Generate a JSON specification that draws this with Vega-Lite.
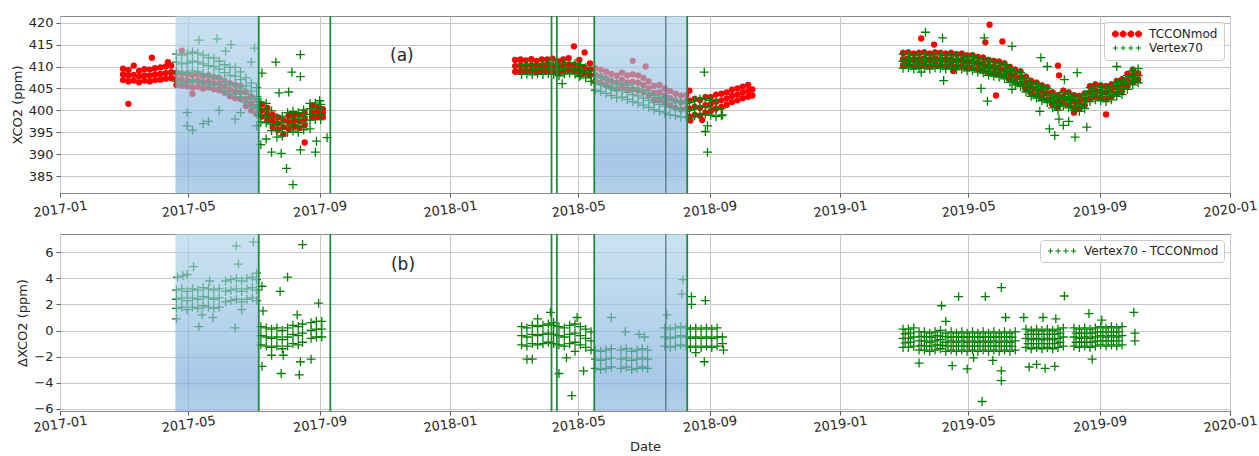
{
  "$schema": "https://vega.github.io/schema/vega-lite/v6.json",
  "background": "white",
  "padding": {"left": 10, "top": 14, "right": 1, "bottom": 2},
  "config": {
    "font": "DejaVu Sans",
    "view": {"stroke": "#8a8a8a", "strokeWidth": 1},
    "axis": {
      "labelFont": "DejaVu Sans", "labelFontSize": 13, "labelColor": "#262626",
      "titleFont": "DejaVu Sans", "titleFontSize": 13, "titleFontWeight": "normal", "titleColor": "#262626",
      "gridColor": "#c8c8c8", "gridWidth": 1, "gridOpacity": 1,
      "domain": false, "tickColor": "#555555", "tickSize": 4
    },
    "legend": {"labelFont": "DejaVu Sans", "labelFontSize": 12, "labelColor": "#262626", "symbolStrokeWidth": 1}
  },
  "datasets": {
    "spans": [{"a": "2017-04-19", "b": "2017-07-06"}, {"a": "2018-05-16", "b": "2018-08-11"}],
    "lines": [{"t": "2017-07-06"}, {"t": "2017-09-11"}, {"t": "2018-04-06"}, {"t": "2018-04-11"}, {"t": "2018-05-16"}, {"t": "2018-08-11"}],
    "edge": [{"t": "2018-07-22"}],
    "series": [{"s": "TCCONmod"}, {"s": "Vertex70"}],
    "tc": [
      {"t":"2017-03-01","y":406.9},{"t":"2017-03-01","y":408.2},{"t":"2017-03-01","y":409.5},
      {"t":"2017-03-06","y":406.6},{"t":"2017-03-06","y":407.9},{"t":"2017-03-06","y":409.2},{"t":"2017-03-06","y":401.5},
      {"t":"2017-03-11","y":406.8},{"t":"2017-03-11","y":408.1},{"t":"2017-03-11","y":410.2},
      {"t":"2017-03-16","y":406.4},{"t":"2017-03-16","y":407.7},{"t":"2017-03-16","y":409.0},
      {"t":"2017-03-21","y":406.8},{"t":"2017-03-21","y":408.0},{"t":"2017-03-21","y":409.4},
      {"t":"2017-03-26","y":406.6},{"t":"2017-03-26","y":407.9},{"t":"2017-03-26","y":409.3},
      {"t":"2017-03-28","y":412.0},
      {"t":"2017-03-31","y":406.9},{"t":"2017-03-31","y":408.2},{"t":"2017-03-31","y":409.6},
      {"t":"2017-04-05","y":407.0},{"t":"2017-04-05","y":408.3},{"t":"2017-04-05","y":409.8},
      {"t":"2017-04-10","y":407.2},{"t":"2017-04-10","y":408.5},{"t":"2017-04-10","y":410.0},
      {"t":"2017-04-12","y":411.0},
      {"t":"2017-04-15","y":407.4},{"t":"2017-04-15","y":408.7},{"t":"2017-04-15","y":410.2},
      {"t":"2017-04-20","y":405.8},{"t":"2017-04-20","y":407.2},{"t":"2017-04-20","y":408.6},
      {"t":"2017-04-25","y":405.6},{"t":"2017-04-25","y":407.0},{"t":"2017-04-25","y":408.4},{"t":"2017-04-25","y":413.6},
      {"t":"2017-04-30","y":405.5},{"t":"2017-04-30","y":406.9},{"t":"2017-04-30","y":408.3},
      {"t":"2017-05-05","y":405.2},{"t":"2017-05-05","y":406.6},{"t":"2017-05-05","y":408.0},{"t":"2017-05-05","y":403.8},
      {"t":"2017-05-10","y":405.4},{"t":"2017-05-10","y":406.8},{"t":"2017-05-10","y":408.2},
      {"t":"2017-05-15","y":405.0},{"t":"2017-05-15","y":406.4},{"t":"2017-05-15","y":407.8},
      {"t":"2017-05-20","y":405.2},{"t":"2017-05-20","y":406.6},{"t":"2017-05-20","y":408.0},
      {"t":"2017-05-25","y":404.8},{"t":"2017-05-25","y":406.2},{"t":"2017-05-25","y":407.6},
      {"t":"2017-05-30","y":404.6},{"t":"2017-05-30","y":406.0},{"t":"2017-05-30","y":407.4},
      {"t":"2017-06-04","y":404.0},{"t":"2017-06-04","y":405.4},{"t":"2017-06-04","y":406.8},
      {"t":"2017-06-09","y":403.2},{"t":"2017-06-09","y":404.7},{"t":"2017-06-09","y":406.2},
      {"t":"2017-06-14","y":402.8},{"t":"2017-06-14","y":404.3},{"t":"2017-06-14","y":405.8},
      {"t":"2017-06-19","y":402.6},{"t":"2017-06-19","y":404.1},{"t":"2017-06-19","y":405.6},
      {"t":"2017-06-24","y":401.0},{"t":"2017-06-24","y":402.6},{"t":"2017-06-24","y":404.2},
      {"t":"2017-06-29","y":400.0},{"t":"2017-06-29","y":401.6},{"t":"2017-06-29","y":403.2},
      {"t":"2017-07-04","y":399.2},{"t":"2017-07-04","y":400.8},{"t":"2017-07-04","y":402.4},
      {"t":"2017-07-09","y":398.6},{"t":"2017-07-09","y":400.0},{"t":"2017-07-09","y":401.4},
      {"t":"2017-07-14","y":397.8},{"t":"2017-07-14","y":399.2},{"t":"2017-07-14","y":400.6},
      {"t":"2017-07-19","y":396.2},{"t":"2017-07-19","y":397.6},{"t":"2017-07-19","y":399.0},
      {"t":"2017-07-24","y":395.6},{"t":"2017-07-24","y":397.0},{"t":"2017-07-24","y":398.4},
      {"t":"2017-07-29","y":394.6},{"t":"2017-07-29","y":396.2},{"t":"2017-07-29","y":397.8},
      {"t":"2017-08-03","y":395.8},{"t":"2017-08-03","y":397.3},{"t":"2017-08-03","y":398.8},
      {"t":"2017-08-08","y":396.2},{"t":"2017-08-08","y":397.6},{"t":"2017-08-08","y":399.0},
      {"t":"2017-08-13","y":396.0},{"t":"2017-08-13","y":397.5},{"t":"2017-08-13","y":399.0},
      {"t":"2017-08-18","y":396.6},{"t":"2017-08-18","y":398.0},{"t":"2017-08-18","y":399.4},{"t":"2017-08-18","y":392.7},
      {"t":"2017-08-25","y":398.4},{"t":"2017-08-25","y":399.6},{"t":"2017-08-25","y":401.1},
      {"t":"2017-08-30","y":398.6},{"t":"2017-08-30","y":399.6},{"t":"2017-08-30","y":400.6},
      {"t":"2017-09-04","y":398.5},{"t":"2017-09-04","y":399.4},{"t":"2017-09-04","y":400.3},
      {"t":"2018-03-03","y":408.8},{"t":"2018-03-03","y":410.1},{"t":"2018-03-03","y":411.5},
      {"t":"2018-03-08","y":409.0},{"t":"2018-03-08","y":410.3},{"t":"2018-03-08","y":411.6},
      {"t":"2018-03-13","y":408.8},{"t":"2018-03-13","y":410.1},{"t":"2018-03-13","y":411.4},
      {"t":"2018-03-18","y":409.0},{"t":"2018-03-18","y":410.3},{"t":"2018-03-18","y":411.7},
      {"t":"2018-03-23","y":408.7},{"t":"2018-03-23","y":410.0},{"t":"2018-03-23","y":411.3},
      {"t":"2018-03-28","y":408.9},{"t":"2018-03-28","y":410.2},{"t":"2018-03-28","y":411.6},
      {"t":"2018-04-02","y":409.0},{"t":"2018-04-02","y":410.3},{"t":"2018-04-02","y":411.6},
      {"t":"2018-04-07","y":408.8},{"t":"2018-04-07","y":410.2},{"t":"2018-04-07","y":411.8},
      {"t":"2018-04-12","y":408.6},{"t":"2018-04-12","y":409.9},{"t":"2018-04-12","y":411.2},
      {"t":"2018-04-17","y":409.0},{"t":"2018-04-17","y":410.3},{"t":"2018-04-17","y":411.6},
      {"t":"2018-04-22","y":409.2},{"t":"2018-04-22","y":410.5},{"t":"2018-04-22","y":411.9},
      {"t":"2018-04-27","y":409.1},{"t":"2018-04-27","y":410.4},{"t":"2018-04-27","y":414.6},
      {"t":"2018-05-02","y":408.8},{"t":"2018-05-02","y":410.1},{"t":"2018-05-02","y":411.5},
      {"t":"2018-05-07","y":408.4},{"t":"2018-05-07","y":409.7},{"t":"2018-05-07","y":413.2},
      {"t":"2018-05-12","y":408.0},{"t":"2018-05-12","y":409.3},{"t":"2018-05-12","y":410.7},
      {"t":"2018-05-17","y":406.6},{"t":"2018-05-17","y":408.1},{"t":"2018-05-17","y":409.6},
      {"t":"2018-05-22","y":406.3},{"t":"2018-05-22","y":407.8},{"t":"2018-05-22","y":409.3},
      {"t":"2018-05-27","y":405.8},{"t":"2018-05-27","y":407.3},{"t":"2018-05-27","y":408.8},
      {"t":"2018-06-01","y":405.2},{"t":"2018-06-01","y":406.7},{"t":"2018-06-01","y":408.3},
      {"t":"2018-06-06","y":404.8},{"t":"2018-06-06","y":406.3},{"t":"2018-06-06","y":407.9},
      {"t":"2018-06-11","y":405.4},{"t":"2018-06-11","y":407.0},{"t":"2018-06-11","y":408.6},
      {"t":"2018-06-16","y":404.8},{"t":"2018-06-16","y":406.4},{"t":"2018-06-16","y":408.0},
      {"t":"2018-06-21","y":404.8},{"t":"2018-06-21","y":406.5},{"t":"2018-06-21","y":408.2},{"t":"2018-06-21","y":411.3},
      {"t":"2018-06-26","y":404.6},{"t":"2018-06-26","y":406.3},{"t":"2018-06-26","y":408.0},
      {"t":"2018-07-01","y":404.2},{"t":"2018-07-01","y":405.8},{"t":"2018-07-01","y":407.4},{"t":"2018-07-03","y":410.0},
      {"t":"2018-07-06","y":403.4},{"t":"2018-07-06","y":405.0},{"t":"2018-07-06","y":406.6},
      {"t":"2018-07-11","y":402.4},{"t":"2018-07-11","y":404.0},{"t":"2018-07-11","y":405.6},
      {"t":"2018-07-16","y":402.4},{"t":"2018-07-16","y":404.1},{"t":"2018-07-16","y":405.8},
      {"t":"2018-07-21","y":401.8},{"t":"2018-07-21","y":403.4},{"t":"2018-07-21","y":405.0},
      {"t":"2018-07-26","y":401.2},{"t":"2018-07-26","y":402.8},{"t":"2018-07-26","y":404.4},
      {"t":"2018-07-31","y":400.6},{"t":"2018-07-31","y":402.2},{"t":"2018-07-31","y":403.8},
      {"t":"2018-08-05","y":400.2},{"t":"2018-08-05","y":401.8},{"t":"2018-08-05","y":403.4},
      {"t":"2018-08-10","y":400.4},{"t":"2018-08-10","y":402.0},{"t":"2018-08-10","y":403.5},
      {"t":"2018-08-13","y":398.6},{"t":"2018-08-13","y":400.4},{"t":"2018-08-13","y":402.2},{"t":"2018-08-13","y":404.5},{"t":"2018-08-14","y":397.7},
      {"t":"2018-08-18","y":399.0},{"t":"2018-08-18","y":400.8},{"t":"2018-08-18","y":402.6},
      {"t":"2018-08-23","y":398.8},{"t":"2018-08-23","y":400.6},{"t":"2018-08-23","y":402.4},{"t":"2018-08-25","y":397.8},
      {"t":"2018-08-28","y":399.5},{"t":"2018-08-28","y":401.2},{"t":"2018-08-28","y":403.0},
      {"t":"2018-09-02","y":399.8},{"t":"2018-09-02","y":401.4},{"t":"2018-09-02","y":403.0},
      {"t":"2018-09-07","y":400.4},{"t":"2018-09-07","y":402.0},{"t":"2018-09-07","y":403.6},
      {"t":"2018-09-12","y":400.8},{"t":"2018-09-12","y":402.3},{"t":"2018-09-12","y":403.8},
      {"t":"2018-09-17","y":401.3},{"t":"2018-09-17","y":402.7},{"t":"2018-09-17","y":404.1},
      {"t":"2018-09-22","y":401.9},{"t":"2018-09-22","y":403.3},{"t":"2018-09-22","y":404.7},
      {"t":"2018-09-27","y":402.3},{"t":"2018-09-27","y":403.6},{"t":"2018-09-27","y":405.0},
      {"t":"2018-10-02","y":402.8},{"t":"2018-10-02","y":404.1},{"t":"2018-10-02","y":405.4},
      {"t":"2018-10-07","y":403.1},{"t":"2018-10-07","y":404.4},{"t":"2018-10-07","y":405.8},
      {"t":"2018-10-11","y":403.4},{"t":"2018-10-11","y":404.8},
      {"t":"2019-03-01","y":410.3},{"t":"2019-03-01","y":411.7},{"t":"2019-03-01","y":413.1},
      {"t":"2019-03-06","y":410.4},{"t":"2019-03-06","y":411.8},{"t":"2019-03-06","y":413.2},
      {"t":"2019-03-11","y":410.1},{"t":"2019-03-11","y":411.5},{"t":"2019-03-11","y":412.9},
      {"t":"2019-03-16","y":410.3},{"t":"2019-03-16","y":411.7},{"t":"2019-03-16","y":413.1},{"t":"2019-03-18","y":416.4},
      {"t":"2019-03-21","y":410.4},{"t":"2019-03-21","y":411.8},{"t":"2019-03-21","y":413.2},
      {"t":"2019-03-26","y":410.1},{"t":"2019-03-26","y":411.5},{"t":"2019-03-26","y":412.9},{"t":"2019-03-30","y":415.0},
      {"t":"2019-03-31","y":410.4},{"t":"2019-03-31","y":411.8},{"t":"2019-03-31","y":413.2},
      {"t":"2019-04-05","y":410.3},{"t":"2019-04-05","y":411.7},{"t":"2019-04-05","y":413.1},
      {"t":"2019-04-10","y":410.1},{"t":"2019-04-10","y":411.5},{"t":"2019-04-10","y":412.9},
      {"t":"2019-04-15","y":410.3},{"t":"2019-04-15","y":411.7},{"t":"2019-04-15","y":413.1},{"t":"2019-04-17","y":409.0},
      {"t":"2019-04-20","y":410.0},{"t":"2019-04-20","y":411.4},{"t":"2019-04-20","y":412.8},
      {"t":"2019-04-25","y":410.1},{"t":"2019-04-25","y":411.5},{"t":"2019-04-25","y":412.9},
      {"t":"2019-04-30","y":409.7},{"t":"2019-04-30","y":411.1},{"t":"2019-04-30","y":412.5},
      {"t":"2019-05-05","y":409.8},{"t":"2019-05-05","y":411.2},{"t":"2019-05-05","y":412.6},
      {"t":"2019-05-10","y":409.4},{"t":"2019-05-10","y":410.8},{"t":"2019-05-10","y":412.2},
      {"t":"2019-05-15","y":409.2},{"t":"2019-05-15","y":410.6},{"t":"2019-05-15","y":412.0},{"t":"2019-05-17","y":415.5},
      {"t":"2019-05-20","y":408.7},{"t":"2019-05-20","y":410.1},{"t":"2019-05-20","y":411.5},{"t":"2019-05-21","y":419.5},
      {"t":"2019-05-25","y":408.5},{"t":"2019-05-25","y":409.9},{"t":"2019-05-25","y":411.3},{"t":"2019-05-27","y":403.4},
      {"t":"2019-05-30","y":408.3},{"t":"2019-05-30","y":409.7},{"t":"2019-05-30","y":411.1},{"t":"2019-06-02","y":415.7},
      {"t":"2019-06-04","y":407.9},{"t":"2019-06-04","y":409.3},{"t":"2019-06-04","y":410.7},
      {"t":"2019-06-09","y":407.1},{"t":"2019-06-09","y":408.5},{"t":"2019-06-09","y":409.9},
      {"t":"2019-06-14","y":406.5},{"t":"2019-06-14","y":407.9},{"t":"2019-06-14","y":409.3},
      {"t":"2019-06-19","y":406.1},{"t":"2019-06-19","y":407.5},{"t":"2019-06-19","y":408.9},
      {"t":"2019-06-24","y":404.9},{"t":"2019-06-24","y":406.3},{"t":"2019-06-24","y":407.7},
      {"t":"2019-06-29","y":403.9},{"t":"2019-06-29","y":405.3},{"t":"2019-06-29","y":406.7},
      {"t":"2019-07-04","y":403.5},{"t":"2019-07-04","y":404.9},{"t":"2019-07-04","y":406.3},
      {"t":"2019-07-09","y":402.9},{"t":"2019-07-09","y":404.3},{"t":"2019-07-09","y":405.7},
      {"t":"2019-07-14","y":402.5},{"t":"2019-07-14","y":403.9},{"t":"2019-07-14","y":405.3},
      {"t":"2019-07-19","y":401.3},{"t":"2019-07-19","y":402.7},{"t":"2019-07-19","y":404.1},
      {"t":"2019-07-24","y":400.7},{"t":"2019-07-24","y":402.1},{"t":"2019-07-24","y":403.5},{"t":"2019-07-24","y":410.2},{"t":"2019-07-25","y":408.0},
      {"t":"2019-07-29","y":401.7},{"t":"2019-07-29","y":403.1},{"t":"2019-07-29","y":404.5},
      {"t":"2019-08-03","y":401.3},{"t":"2019-08-03","y":402.7},{"t":"2019-08-03","y":404.1},
      {"t":"2019-08-08","y":400.7},{"t":"2019-08-08","y":402.1},{"t":"2019-08-08","y":403.5},{"t":"2019-08-08","y":399.5},
      {"t":"2019-08-13","y":400.5},{"t":"2019-08-13","y":401.9},{"t":"2019-08-13","y":403.3},
      {"t":"2019-08-18","y":401.1},{"t":"2019-08-18","y":402.5},{"t":"2019-08-18","y":403.9},
      {"t":"2019-08-23","y":402.7},{"t":"2019-08-23","y":404.1},{"t":"2019-08-23","y":405.5},
      {"t":"2019-08-28","y":403.1},{"t":"2019-08-28","y":404.5},{"t":"2019-08-28","y":405.9},
      {"t":"2019-09-02","y":402.9},{"t":"2019-09-02","y":404.3},{"t":"2019-09-02","y":405.7},
      {"t":"2019-09-07","y":402.7},{"t":"2019-09-07","y":404.1},{"t":"2019-09-07","y":405.5},{"t":"2019-09-07","y":399.1},
      {"t":"2019-09-12","y":403.1},{"t":"2019-09-12","y":404.5},{"t":"2019-09-12","y":405.9},
      {"t":"2019-09-17","y":403.9},{"t":"2019-09-17","y":405.3},{"t":"2019-09-17","y":406.7},
      {"t":"2019-09-22","y":404.3},{"t":"2019-09-22","y":405.7},{"t":"2019-09-22","y":407.1},
      {"t":"2019-09-27","y":405.5},{"t":"2019-09-27","y":406.9},{"t":"2019-09-27","y":408.3},
      {"t":"2019-10-02","y":406.5},{"t":"2019-10-02","y":407.9},{"t":"2019-10-02","y":409.3},
      {"t":"2019-10-07","y":407.0},{"t":"2019-10-07","y":408.4}
    ],
    "vx": [
      {"t":"2017-04-20","y":406.6},{"t":"2017-04-20","y":408.8},{"t":"2017-04-20","y":411.0},{"t":"2017-04-20","y":412.8},
      {"t":"2017-04-25","y":406.2},{"t":"2017-04-25","y":408.4},{"t":"2017-04-25","y":410.6},{"t":"2017-04-25","y":412.6},
      {"t":"2017-04-30","y":406.4},{"t":"2017-04-30","y":408.6},{"t":"2017-04-30","y":410.8},{"t":"2017-04-30","y":412.9},{"t":"2017-04-30","y":396.5},{"t":"2017-04-30","y":399.5},
      {"t":"2017-05-05","y":406.8},{"t":"2017-05-05","y":409.0},{"t":"2017-05-05","y":411.2},{"t":"2017-05-05","y":413.3},{"t":"2017-05-05","y":395.5},
      {"t":"2017-05-10","y":406.6},{"t":"2017-05-10","y":408.8},{"t":"2017-05-10","y":411.0},{"t":"2017-05-10","y":413.0},{"t":"2017-05-11","y":416.0},
      {"t":"2017-05-15","y":406.2},{"t":"2017-05-15","y":408.4},{"t":"2017-05-15","y":410.6},{"t":"2017-05-15","y":412.6},{"t":"2017-05-15","y":397.0},
      {"t":"2017-05-20","y":405.8},{"t":"2017-05-20","y":408.0},{"t":"2017-05-20","y":410.2},{"t":"2017-05-20","y":412.0},{"t":"2017-05-20","y":397.5},
      {"t":"2017-05-25","y":405.8},{"t":"2017-05-25","y":407.9},{"t":"2017-05-25","y":410.0},{"t":"2017-05-25","y":411.9},{"t":"2017-05-28","y":416.3},
      {"t":"2017-05-30","y":405.2},{"t":"2017-05-30","y":407.3},{"t":"2017-05-30","y":409.4},{"t":"2017-05-30","y":411.2},{"t":"2017-05-30","y":400.0},
      {"t":"2017-06-04","y":404.4},{"t":"2017-06-04","y":406.5},{"t":"2017-06-04","y":408.6},{"t":"2017-06-04","y":410.4},{"t":"2017-06-05","y":413.5},
      {"t":"2017-06-09","y":403.8},{"t":"2017-06-09","y":405.9},{"t":"2017-06-09","y":408.0},{"t":"2017-06-09","y":409.8},{"t":"2017-06-10","y":415.0},
      {"t":"2017-06-14","y":403.8},{"t":"2017-06-14","y":405.8},{"t":"2017-06-14","y":407.8},{"t":"2017-06-14","y":409.8},{"t":"2017-06-14","y":398.0},
      {"t":"2017-06-19","y":403.0},{"t":"2017-06-19","y":405.0},{"t":"2017-06-19","y":407.0},{"t":"2017-06-19","y":408.8},{"t":"2017-06-19","y":399.5},
      {"t":"2017-06-24","y":401.8},{"t":"2017-06-24","y":403.7},{"t":"2017-06-24","y":405.6},{"t":"2017-06-24","y":407.4},
      {"t":"2017-06-29","y":400.8},{"t":"2017-06-29","y":402.6},{"t":"2017-06-29","y":404.4},{"t":"2017-06-29","y":406.2},{"t":"2017-06-29","y":411.0},
      {"t":"2017-07-04","y":399.2},{"t":"2017-07-04","y":401.2},{"t":"2017-07-04","y":403.2},{"t":"2017-07-04","y":405.2},{"t":"2017-07-02","y":414.2},{"t":"2017-07-04","y":396.5},
      {"t":"2017-07-08","y":397.4},{"t":"2017-07-08","y":398.9},{"t":"2017-07-08","y":400.4},{"t":"2017-07-08","y":401.9},{"t":"2017-07-08","y":392.2},{"t":"2017-07-09","y":408.5},
      {"t":"2017-07-13","y":397.2},{"t":"2017-07-13","y":398.7},{"t":"2017-07-13","y":400.2},{"t":"2017-07-13","y":401.6},{"t":"2017-07-13","y":393.5},
      {"t":"2017-07-18","y":395.4},{"t":"2017-07-18","y":396.9},{"t":"2017-07-18","y":398.4},{"t":"2017-07-18","y":399.9},{"t":"2017-07-18","y":390.5},
      {"t":"2017-07-23","y":393.9},{"t":"2017-07-23","y":395.4},{"t":"2017-07-23","y":396.9},{"t":"2017-07-23","y":398.4},{"t":"2017-07-22","y":411.0},{"t":"2017-07-25","y":404.0},
      {"t":"2017-07-28","y":394.2},{"t":"2017-07-28","y":395.7},{"t":"2017-07-28","y":397.2},{"t":"2017-07-28","y":398.7},{"t":"2017-07-27","y":390.2},{"t":"2017-08-01","y":386.8},
      {"t":"2017-08-02","y":395.0},{"t":"2017-08-02","y":396.5},{"t":"2017-08-02","y":398.0},{"t":"2017-08-02","y":399.5},{"t":"2017-08-03","y":404.2},
      {"t":"2017-08-07","y":395.3},{"t":"2017-08-07","y":396.8},{"t":"2017-08-07","y":398.3},{"t":"2017-08-07","y":399.8},{"t":"2017-08-07","y":383.1},{"t":"2017-08-06","y":408.7},
      {"t":"2017-08-12","y":395.0},{"t":"2017-08-12","y":396.5},{"t":"2017-08-12","y":398.0},{"t":"2017-08-12","y":399.5},{"t":"2017-08-14","y":391.0},
      {"t":"2017-08-17","y":395.6},{"t":"2017-08-17","y":397.1},{"t":"2017-08-17","y":398.6},{"t":"2017-08-17","y":400.1},{"t":"2017-08-14","y":412.7},{"t":"2017-08-14","y":407.7},
      {"t":"2017-08-23","y":397.8},{"t":"2017-08-23","y":399.1},{"t":"2017-08-23","y":400.4},{"t":"2017-08-23","y":401.6},{"t":"2017-08-23","y":395.8},
      {"t":"2017-08-28","y":397.9},{"t":"2017-08-28","y":399.2},{"t":"2017-08-28","y":400.5},{"t":"2017-08-28","y":401.7},{"t":"2017-08-28","y":390.5},{"t":"2017-08-29","y":393.0},
      {"t":"2017-09-02","y":397.9},{"t":"2017-09-02","y":399.1},{"t":"2017-09-02","y":400.3},{"t":"2017-09-02","y":401.4},{"t":"2017-09-01","y":402.2},
      {"t":"2017-09-08","y":393.8},
      {"t":"2018-03-09","y":408.2},{"t":"2018-03-09","y":409.3},{"t":"2018-03-09","y":410.4},
      {"t":"2018-03-14","y":408.3},{"t":"2018-03-14","y":409.4},{"t":"2018-03-14","y":410.5},
      {"t":"2018-03-19","y":408.1},{"t":"2018-03-19","y":409.2},{"t":"2018-03-19","y":410.3},
      {"t":"2018-03-24","y":408.4},{"t":"2018-03-24","y":409.5},{"t":"2018-03-24","y":410.6},
      {"t":"2018-03-29","y":408.2},{"t":"2018-03-29","y":409.4},{"t":"2018-03-29","y":410.6},
      {"t":"2018-04-03","y":408.4},{"t":"2018-04-03","y":409.6},{"t":"2018-04-03","y":410.8},
      {"t":"2018-04-08","y":408.2},{"t":"2018-04-08","y":409.4},{"t":"2018-04-08","y":410.6},
      {"t":"2018-04-13","y":407.9},{"t":"2018-04-13","y":409.1},{"t":"2018-04-13","y":410.3},{"t":"2018-04-16","y":406.1},
      {"t":"2018-04-18","y":408.3},{"t":"2018-04-18","y":409.5},{"t":"2018-04-18","y":410.7},
      {"t":"2018-04-23","y":408.5},{"t":"2018-04-23","y":409.7},{"t":"2018-04-23","y":410.9},
      {"t":"2018-04-28","y":408.3},{"t":"2018-04-28","y":409.5},{"t":"2018-04-28","y":410.7},{"t":"2018-05-02","y":407.7},
      {"t":"2018-05-03","y":408.0},{"t":"2018-05-03","y":409.2},{"t":"2018-05-03","y":410.4},
      {"t":"2018-05-08","y":407.4},{"t":"2018-05-08","y":408.6},{"t":"2018-05-08","y":409.8},
      {"t":"2018-05-13","y":406.6},{"t":"2018-05-13","y":407.8},{"t":"2018-05-13","y":409.0},
      {"t":"2018-05-17","y":404.6},{"t":"2018-05-17","y":406.2},{"t":"2018-05-17","y":407.8},
      {"t":"2018-05-22","y":404.3},{"t":"2018-05-22","y":405.9},{"t":"2018-05-22","y":407.5},
      {"t":"2018-05-27","y":403.9},{"t":"2018-05-27","y":405.5},{"t":"2018-05-27","y":407.1},
      {"t":"2018-06-01","y":403.4},{"t":"2018-06-01","y":405.0},{"t":"2018-06-01","y":406.6},
      {"t":"2018-06-06","y":402.9},{"t":"2018-06-06","y":404.5},{"t":"2018-06-06","y":406.1},
      {"t":"2018-06-11","y":403.0},{"t":"2018-06-11","y":404.6},{"t":"2018-06-11","y":406.2},
      {"t":"2018-06-16","y":402.5},{"t":"2018-06-16","y":404.1},{"t":"2018-06-16","y":405.7},
      {"t":"2018-06-21","y":402.0},{"t":"2018-06-21","y":403.6},{"t":"2018-06-21","y":405.2},
      {"t":"2018-06-26","y":401.7},{"t":"2018-06-26","y":403.3},{"t":"2018-06-26","y":404.9},
      {"t":"2018-07-01","y":401.2},{"t":"2018-07-01","y":402.8},{"t":"2018-07-01","y":404.4},
      {"t":"2018-07-06","y":400.7},{"t":"2018-07-06","y":402.3},{"t":"2018-07-06","y":403.9},
      {"t":"2018-07-11","y":400.2},{"t":"2018-07-11","y":401.8},{"t":"2018-07-11","y":403.4},
      {"t":"2018-07-16","y":399.8},{"t":"2018-07-16","y":401.4},{"t":"2018-07-16","y":403.0},
      {"t":"2018-07-21","y":399.4},{"t":"2018-07-21","y":401.0},{"t":"2018-07-21","y":402.6},
      {"t":"2018-07-26","y":399.0},{"t":"2018-07-26","y":400.7},{"t":"2018-07-26","y":402.4},
      {"t":"2018-07-31","y":398.8},{"t":"2018-07-31","y":400.5},{"t":"2018-07-31","y":402.2},
      {"t":"2018-08-05","y":398.5},{"t":"2018-08-05","y":400.2},{"t":"2018-08-05","y":401.9},
      {"t":"2018-08-10","y":398.6},{"t":"2018-08-10","y":400.3},{"t":"2018-08-10","y":402.0},
      {"t":"2018-08-13","y":398.3},{"t":"2018-08-13","y":400.0},{"t":"2018-08-13","y":401.8},
      {"t":"2018-08-18","y":398.8},{"t":"2018-08-18","y":400.6},{"t":"2018-08-18","y":402.4},
      {"t":"2018-08-23","y":399.0},{"t":"2018-08-23","y":400.8},{"t":"2018-08-23","y":402.6},
      {"t":"2018-08-28","y":399.2},{"t":"2018-08-28","y":401.0},{"t":"2018-08-28","y":402.8},{"t":"2018-08-27","y":408.7},{"t":"2018-08-28","y":395.2},
      {"t":"2018-08-30","y":390.5},{"t":"2018-08-30","y":396.5},
      {"t":"2018-09-02","y":398.9},{"t":"2018-09-02","y":400.6},{"t":"2018-09-02","y":402.3},
      {"t":"2018-09-07","y":398.6},{"t":"2018-09-07","y":400.4},{"t":"2018-09-07","y":402.1},
      {"t":"2018-09-12","y":398.8},{"t":"2018-09-12","y":400.4},{"t":"2018-09-13","y":399.0},
      {"t":"2019-03-01","y":409.6},{"t":"2019-03-01","y":411.2},{"t":"2019-03-01","y":412.8},
      {"t":"2019-03-06","y":409.7},{"t":"2019-03-06","y":411.3},{"t":"2019-03-06","y":412.9},
      {"t":"2019-03-11","y":409.4},{"t":"2019-03-11","y":411.0},{"t":"2019-03-11","y":412.6},
      {"t":"2019-03-16","y":409.6},{"t":"2019-03-16","y":411.2},{"t":"2019-03-16","y":412.8},{"t":"2019-03-18","y":408.7},
      {"t":"2019-03-21","y":409.7},{"t":"2019-03-21","y":411.3},{"t":"2019-03-21","y":412.9},{"t":"2019-03-22","y":417.8},
      {"t":"2019-03-26","y":409.4},{"t":"2019-03-26","y":411.0},{"t":"2019-03-26","y":412.6},
      {"t":"2019-03-31","y":409.7},{"t":"2019-03-31","y":411.3},{"t":"2019-03-31","y":412.9},
      {"t":"2019-04-05","y":409.6},{"t":"2019-04-05","y":411.2},{"t":"2019-04-05","y":412.8},{"t":"2019-04-07","y":416.5},{"t":"2019-04-08","y":406.8},
      {"t":"2019-04-10","y":409.4},{"t":"2019-04-10","y":411.0},{"t":"2019-04-10","y":412.6},
      {"t":"2019-04-15","y":409.6},{"t":"2019-04-15","y":411.2},{"t":"2019-04-15","y":412.8},
      {"t":"2019-04-20","y":409.3},{"t":"2019-04-20","y":410.9},{"t":"2019-04-20","y":412.5},
      {"t":"2019-04-25","y":409.4},{"t":"2019-04-25","y":411.0},{"t":"2019-04-25","y":412.6},
      {"t":"2019-04-30","y":409.0},{"t":"2019-04-30","y":410.6},{"t":"2019-04-30","y":412.2},
      {"t":"2019-05-05","y":409.1},{"t":"2019-05-05","y":410.7},{"t":"2019-05-05","y":412.3},
      {"t":"2019-05-10","y":408.7},{"t":"2019-05-10","y":410.3},{"t":"2019-05-10","y":411.9},{"t":"2019-05-13","y":405.0},
      {"t":"2019-05-15","y":408.5},{"t":"2019-05-15","y":410.1},{"t":"2019-05-15","y":411.7},{"t":"2019-05-16","y":416.5},
      {"t":"2019-05-20","y":408.0},{"t":"2019-05-20","y":409.6},{"t":"2019-05-20","y":411.2},{"t":"2019-05-19","y":402.1},
      {"t":"2019-05-25","y":407.8},{"t":"2019-05-25","y":409.4},{"t":"2019-05-25","y":411.0},
      {"t":"2019-05-30","y":407.6},{"t":"2019-05-30","y":409.2},{"t":"2019-05-30","y":410.8},
      {"t":"2019-06-04","y":407.2},{"t":"2019-06-04","y":408.8},{"t":"2019-06-04","y":410.4},
      {"t":"2019-06-09","y":406.4},{"t":"2019-06-09","y":408.0},{"t":"2019-06-09","y":409.6},{"t":"2019-06-11","y":404.8},{"t":"2019-06-11","y":414.6},
      {"t":"2019-06-14","y":405.8},{"t":"2019-06-14","y":407.4},{"t":"2019-06-14","y":409.0},
      {"t":"2019-06-19","y":405.4},{"t":"2019-06-19","y":407.0},{"t":"2019-06-19","y":408.6},
      {"t":"2019-06-24","y":404.2},{"t":"2019-06-24","y":405.8},{"t":"2019-06-24","y":407.4},
      {"t":"2019-06-29","y":403.2},{"t":"2019-06-29","y":404.8},{"t":"2019-06-29","y":406.4},
      {"t":"2019-07-04","y":402.8},{"t":"2019-07-04","y":404.4},{"t":"2019-07-04","y":406.0},{"t":"2019-07-07","y":399.8},
      {"t":"2019-07-09","y":402.2},{"t":"2019-07-09","y":403.8},{"t":"2019-07-09","y":405.4},{"t":"2019-07-08","y":412.0},
      {"t":"2019-07-14","y":401.8},{"t":"2019-07-14","y":403.4},{"t":"2019-07-14","y":405.0},{"t":"2019-07-14","y":410.0},{"t":"2019-07-16","y":395.8},
      {"t":"2019-07-19","y":400.6},{"t":"2019-07-19","y":402.2},{"t":"2019-07-19","y":403.8},{"t":"2019-07-21","y":394.3},
      {"t":"2019-07-24","y":400.0},{"t":"2019-07-24","y":401.6},{"t":"2019-07-24","y":403.2},{"t":"2019-07-25","y":398.0},
      {"t":"2019-07-29","y":401.0},{"t":"2019-07-29","y":402.6},{"t":"2019-07-29","y":404.2},{"t":"2019-07-29","y":396.6},{"t":"2019-07-30","y":407.0},
      {"t":"2019-08-03","y":400.6},{"t":"2019-08-03","y":402.2},{"t":"2019-08-03","y":403.8},{"t":"2019-08-03","y":397.5},
      {"t":"2019-08-08","y":400.0},{"t":"2019-08-08","y":401.6},{"t":"2019-08-08","y":403.2},{"t":"2019-08-09","y":393.9},{"t":"2019-08-11","y":408.6},
      {"t":"2019-08-13","y":399.8},{"t":"2019-08-13","y":401.4},{"t":"2019-08-13","y":403.0},
      {"t":"2019-08-18","y":400.4},{"t":"2019-08-18","y":402.0},{"t":"2019-08-18","y":403.6},{"t":"2019-08-20","y":396.2},
      {"t":"2019-08-23","y":402.0},{"t":"2019-08-23","y":403.6},{"t":"2019-08-23","y":405.2},
      {"t":"2019-08-28","y":402.4},{"t":"2019-08-28","y":404.0},{"t":"2019-08-28","y":405.6},
      {"t":"2019-09-02","y":402.2},{"t":"2019-09-02","y":403.8},{"t":"2019-09-02","y":405.4},
      {"t":"2019-09-07","y":402.0},{"t":"2019-09-07","y":403.6},{"t":"2019-09-07","y":405.2},
      {"t":"2019-09-12","y":402.4},{"t":"2019-09-12","y":404.0},{"t":"2019-09-12","y":405.6},
      {"t":"2019-09-17","y":403.2},{"t":"2019-09-17","y":404.8},{"t":"2019-09-17","y":406.4},{"t":"2019-09-17","y":410.0},
      {"t":"2019-09-22","y":403.6},{"t":"2019-09-22","y":405.2},{"t":"2019-09-22","y":406.8},
      {"t":"2019-09-27","y":404.8},{"t":"2019-09-27","y":406.4},{"t":"2019-09-27","y":408.0},
      {"t":"2019-10-02","y":405.8},{"t":"2019-10-02","y":407.4},{"t":"2019-10-02","y":409.0},
      {"t":"2019-10-07","y":406.3},{"t":"2019-10-07","y":407.9},{"t":"2019-10-07","y":409.5},
      {"t":"2019-03-03","y":410.5},{"t":"2019-03-03","y":412.0},{"t":"2019-03-08","y":410.3},{"t":"2019-03-08","y":411.9},
      {"t":"2019-03-13","y":410.3},{"t":"2019-03-13","y":411.9},{"t":"2019-03-18","y":410.4},{"t":"2019-03-18","y":412.0},
      {"t":"2019-03-23","y":410.3},{"t":"2019-03-23","y":411.9},{"t":"2019-03-28","y":410.4},{"t":"2019-03-28","y":412.0},
      {"t":"2019-04-02","y":410.4},{"t":"2019-04-02","y":412.0},{"t":"2019-04-07","y":410.3},{"t":"2019-04-07","y":411.9},
      {"t":"2019-04-12","y":410.3},{"t":"2019-04-12","y":411.9},{"t":"2019-04-17","y":410.2},{"t":"2019-04-17","y":411.8},
      {"t":"2019-04-22","y":410.1},{"t":"2019-04-22","y":411.7},{"t":"2019-04-27","y":410.0},{"t":"2019-04-27","y":411.6},
      {"t":"2019-05-02","y":409.8},{"t":"2019-05-02","y":411.4},{"t":"2019-05-07","y":409.7},{"t":"2019-05-07","y":411.3},
      {"t":"2019-05-12","y":409.4},{"t":"2019-05-12","y":411.0},{"t":"2019-05-17","y":409.0},{"t":"2019-05-17","y":410.6},
      {"t":"2019-05-22","y":408.7},{"t":"2019-05-22","y":410.3},{"t":"2019-05-27","y":408.5},{"t":"2019-05-27","y":410.1},
      {"t":"2019-06-01","y":408.2},{"t":"2019-06-01","y":409.8},{"t":"2019-06-06","y":407.6},{"t":"2019-06-06","y":409.2},
      {"t":"2019-06-11","y":406.9},{"t":"2019-06-11","y":408.5},{"t":"2019-06-16","y":406.4},{"t":"2019-06-16","y":408.0},
      {"t":"2019-06-21","y":405.6},{"t":"2019-06-21","y":407.2},{"t":"2019-06-26","y":404.5},{"t":"2019-06-26","y":406.1},
      {"t":"2019-07-01","y":403.8},{"t":"2019-07-01","y":405.4},{"t":"2019-07-06","y":403.3},{"t":"2019-07-06","y":404.9},
      {"t":"2019-07-11","y":402.8},{"t":"2019-07-11","y":404.4},{"t":"2019-07-16","y":402.0},{"t":"2019-07-16","y":403.6},
      {"t":"2019-07-21","y":401.1},{"t":"2019-07-21","y":402.7},{"t":"2019-07-26","y":401.3},{"t":"2019-07-26","y":402.9},
      {"t":"2019-07-31","y":401.6},{"t":"2019-07-31","y":403.2},{"t":"2019-08-05","y":401.1},{"t":"2019-08-05","y":402.7},
      {"t":"2019-08-10","y":400.7},{"t":"2019-08-10","y":402.3},{"t":"2019-08-15","y":400.9},{"t":"2019-08-15","y":402.5},
      {"t":"2019-08-20","y":402.0},{"t":"2019-08-20","y":403.6},{"t":"2019-08-25","y":403.0},{"t":"2019-08-25","y":404.6},
      {"t":"2019-08-30","y":403.1},{"t":"2019-08-30","y":404.7},{"t":"2019-09-04","y":402.9},{"t":"2019-09-04","y":404.5},
      {"t":"2019-09-09","y":403.0},{"t":"2019-09-09","y":404.6},{"t":"2019-09-14","y":403.6},{"t":"2019-09-14","y":405.2},
      {"t":"2019-09-19","y":404.2},{"t":"2019-09-19","y":405.8},{"t":"2019-09-24","y":405.0},{"t":"2019-09-24","y":406.6},
      {"t":"2019-09-29","y":406.1},{"t":"2019-09-29","y":407.7},{"t":"2019-10-04","y":406.8},{"t":"2019-10-04","y":408.5}
    ],
    "dv": [
      {"t":"2017-04-20","y":1.7},{"t":"2017-04-20","y":2.4},{"t":"2017-04-20","y":3.1},{"t":"2017-04-20","y":0.9},{"t":"2017-04-21","y":4.1},
      {"t":"2017-04-25","y":1.8},{"t":"2017-04-25","y":2.5},{"t":"2017-04-25","y":3.2},{"t":"2017-04-26","y":4.2},
      {"t":"2017-04-30","y":1.6},{"t":"2017-04-30","y":2.3},{"t":"2017-04-30","y":3.0},{"t":"2017-04-30","y":4.3},
      {"t":"2017-05-05","y":1.8},{"t":"2017-05-05","y":2.5},{"t":"2017-05-05","y":3.2},{"t":"2017-05-06","y":4.9},
      {"t":"2017-05-10","y":1.7},{"t":"2017-05-10","y":2.4},{"t":"2017-05-10","y":3.1},{"t":"2017-05-11","y":0.3},
      {"t":"2017-05-15","y":1.9},{"t":"2017-05-15","y":2.6},{"t":"2017-05-15","y":3.3},{"t":"2017-05-14","y":1.2},
      {"t":"2017-05-20","y":1.8},{"t":"2017-05-20","y":2.5},{"t":"2017-05-20","y":3.2},{"t":"2017-05-21","y":3.8},
      {"t":"2017-05-25","y":1.7},{"t":"2017-05-25","y":2.4},{"t":"2017-05-25","y":3.1},{"t":"2017-05-24","y":1.0},
      {"t":"2017-05-30","y":1.8},{"t":"2017-05-30","y":2.5},{"t":"2017-05-30","y":3.2},
      {"t":"2017-06-05","y":2.2},{"t":"2017-06-05","y":3.0},{"t":"2017-06-05","y":3.8},
      {"t":"2017-06-10","y":2.3},{"t":"2017-06-10","y":3.1},{"t":"2017-06-10","y":3.9},{"t":"2017-06-14","y":0.2},
      {"t":"2017-06-15","y":2.4},{"t":"2017-06-15","y":3.2},{"t":"2017-06-15","y":4.0},{"t":"2017-06-15","y":6.5},{"t":"2017-06-17","y":5.1},
      {"t":"2017-06-20","y":2.2},{"t":"2017-06-20","y":3.0},{"t":"2017-06-20","y":3.8},{"t":"2017-06-20","y":1.6},
      {"t":"2017-06-25","y":2.4},{"t":"2017-06-25","y":3.2},{"t":"2017-06-25","y":4.0},
      {"t":"2017-06-30","y":2.5},{"t":"2017-06-30","y":3.3},{"t":"2017-06-30","y":4.1},{"t":"2017-07-01","y":6.8},
      {"t":"2017-07-04","y":2.3},{"t":"2017-07-04","y":3.1},{"t":"2017-07-04","y":3.9},{"t":"2017-07-04","y":4.4},
      {"t":"2017-07-08","y":-1.1},{"t":"2017-07-08","y":-0.4},{"t":"2017-07-08","y":0.3},{"t":"2017-07-09","y":3.4},{"t":"2017-07-09","y":-2.75},{"t":"2017-07-10","y":1.5},
      {"t":"2017-07-13","y":-1.2},{"t":"2017-07-13","y":-0.5},{"t":"2017-07-13","y":0.2},
      {"t":"2017-07-18","y":-1.3},{"t":"2017-07-18","y":-0.6},{"t":"2017-07-18","y":0.1},{"t":"2017-07-18","y":-1.9},
      {"t":"2017-07-23","y":-1.2},{"t":"2017-07-23","y":-0.5},{"t":"2017-07-23","y":0.2},{"t":"2017-07-26","y":3.0},
      {"t":"2017-07-28","y":-1.4},{"t":"2017-07-28","y":-0.7},{"t":"2017-07-28","y":0.0},{"t":"2017-07-27","y":-3.3},{"t":"2017-07-29","y":-1.9},
      {"t":"2017-08-02","y":-1.2},{"t":"2017-08-02","y":-0.5},{"t":"2017-08-02","y":0.2},{"t":"2017-08-02","y":4.1},
      {"t":"2017-08-07","y":-1.0},{"t":"2017-08-07","y":-0.3},{"t":"2017-08-07","y":0.4},
      {"t":"2017-08-12","y":-1.1},{"t":"2017-08-12","y":-0.4},{"t":"2017-08-12","y":0.3},{"t":"2017-08-13","y":-3.4},{"t":"2017-08-11","y":1.2},
      {"t":"2017-08-16","y":-0.9},{"t":"2017-08-16","y":-0.2},{"t":"2017-08-16","y":0.5},{"t":"2017-08-16","y":6.6},{"t":"2017-08-14","y":-2.4},
      {"t":"2017-08-24","y":-0.6},{"t":"2017-08-24","y":0.0},{"t":"2017-08-24","y":0.6},{"t":"2017-08-24","y":-2.2},
      {"t":"2017-08-29","y":-0.5},{"t":"2017-08-29","y":0.1},{"t":"2017-08-29","y":0.7},{"t":"2017-08-31","y":2.1},
      {"t":"2017-09-03","y":-0.5},{"t":"2017-09-03","y":0.1},{"t":"2017-09-03","y":0.7},
      {"t":"2018-03-09","y":-1.1},{"t":"2018-03-09","y":-0.4},{"t":"2018-03-09","y":0.3},
      {"t":"2018-03-14","y":-1.2},{"t":"2018-03-14","y":-0.5},{"t":"2018-03-14","y":0.2},{"t":"2018-03-14","y":-2.2},
      {"t":"2018-03-19","y":-1.0},{"t":"2018-03-19","y":-0.3},{"t":"2018-03-19","y":0.4},{"t":"2018-03-19","y":-2.2},
      {"t":"2018-03-24","y":-1.1},{"t":"2018-03-24","y":-0.4},{"t":"2018-03-24","y":0.3},{"t":"2018-03-24","y":0.9},
      {"t":"2018-03-29","y":-1.0},{"t":"2018-03-29","y":-0.3},{"t":"2018-03-29","y":0.4},
      {"t":"2018-04-03","y":-0.9},{"t":"2018-04-03","y":-0.2},{"t":"2018-04-03","y":0.5},{"t":"2018-04-05","y":1.4},
      {"t":"2018-04-08","y":-1.0},{"t":"2018-04-08","y":-0.3},{"t":"2018-04-08","y":0.4},{"t":"2018-04-08","y":0.6},
      {"t":"2018-04-13","y":-1.1},{"t":"2018-04-13","y":-0.4},{"t":"2018-04-13","y":0.3},{"t":"2018-04-13","y":-3.3},
      {"t":"2018-04-18","y":-1.2},{"t":"2018-04-18","y":-0.5},{"t":"2018-04-18","y":0.2},{"t":"2018-04-20","y":-2.1},
      {"t":"2018-04-23","y":-1.0},{"t":"2018-04-23","y":-0.3},{"t":"2018-04-23","y":0.4},{"t":"2018-04-25","y":-5.0},
      {"t":"2018-04-28","y":-0.9},{"t":"2018-04-28","y":-0.2},{"t":"2018-04-28","y":0.5},{"t":"2018-04-30","y":1.0},{"t":"2018-04-28","y":-1.6},
      {"t":"2018-05-03","y":-1.1},{"t":"2018-05-03","y":-0.4},{"t":"2018-05-03","y":0.3},
      {"t":"2018-05-08","y":-1.3},{"t":"2018-05-08","y":-0.6},{"t":"2018-05-08","y":0.1},{"t":"2018-05-06","y":-3.1},
      {"t":"2018-05-13","y":-1.5},{"t":"2018-05-13","y":-0.8},{"t":"2018-05-13","y":-0.1},
      {"t":"2018-05-17","y":-2.9},{"t":"2018-05-17","y":-2.2},{"t":"2018-05-17","y":-1.5},
      {"t":"2018-05-22","y":-3.0},{"t":"2018-05-22","y":-2.3},{"t":"2018-05-22","y":-1.6},
      {"t":"2018-05-27","y":-2.9},{"t":"2018-05-27","y":-2.2},{"t":"2018-05-27","y":-1.5},
      {"t":"2018-06-01","y":-2.8},{"t":"2018-06-01","y":-2.1},{"t":"2018-06-01","y":-1.4},{"t":"2018-06-01","y":1.0},
      {"t":"2018-06-10","y":-2.9},{"t":"2018-06-10","y":-2.2},{"t":"2018-06-10","y":-1.5},
      {"t":"2018-06-15","y":-2.8},{"t":"2018-06-15","y":-2.1},{"t":"2018-06-15","y":-1.4},{"t":"2018-06-14","y":-0.1},
      {"t":"2018-06-20","y":-3.0},{"t":"2018-06-20","y":-2.3},{"t":"2018-06-20","y":-1.6},
      {"t":"2018-06-25","y":-2.9},{"t":"2018-06-25","y":-2.2},{"t":"2018-06-25","y":-1.5},{"t":"2018-06-27","y":-0.3},
      {"t":"2018-06-30","y":-2.8},{"t":"2018-06-30","y":-2.1},{"t":"2018-06-30","y":-1.4},{"t":"2018-07-02","y":-0.5},
      {"t":"2018-07-05","y":-2.9},{"t":"2018-07-05","y":-2.2},{"t":"2018-07-05","y":-1.5},
      {"t":"2018-07-21","y":-1.2},{"t":"2018-07-21","y":-0.5},{"t":"2018-07-21","y":0.2},{"t":"2018-07-23","y":1.2},
      {"t":"2018-07-26","y":-1.3},{"t":"2018-07-26","y":-0.6},{"t":"2018-07-26","y":0.1},
      {"t":"2018-07-31","y":-1.2},{"t":"2018-07-31","y":-0.5},{"t":"2018-07-31","y":0.2},
      {"t":"2018-08-05","y":-1.1},{"t":"2018-08-05","y":-0.4},{"t":"2018-08-05","y":0.3},{"t":"2018-08-06","y":2.8},{"t":"2018-08-07","y":3.9},
      {"t":"2018-08-10","y":-1.2},{"t":"2018-08-10","y":-0.5},{"t":"2018-08-10","y":0.2},
      {"t":"2018-08-14","y":-1.3},{"t":"2018-08-14","y":-0.6},{"t":"2018-08-14","y":0.1},{"t":"2018-08-15","y":2.6},{"t":"2018-08-15","y":2.0},
      {"t":"2018-08-19","y":-1.2},{"t":"2018-08-19","y":-0.5},{"t":"2018-08-19","y":0.2},{"t":"2018-08-19","y":-1.7},
      {"t":"2018-08-24","y":-1.3},{"t":"2018-08-24","y":-0.6},{"t":"2018-08-24","y":0.1},
      {"t":"2018-08-29","y":-1.2},{"t":"2018-08-29","y":-0.5},{"t":"2018-08-29","y":0.2},{"t":"2018-08-28","y":2.3},{"t":"2018-08-27","y":-2.4},
      {"t":"2018-09-03","y":-1.3},{"t":"2018-09-03","y":-0.6},{"t":"2018-09-03","y":0.1},
      {"t":"2018-09-08","y":-1.2},{"t":"2018-09-08","y":-0.5},{"t":"2018-09-08","y":0.2},
      {"t":"2018-09-13","y":-1.0},{"t":"2018-09-13","y":-0.5},{"t":"2018-09-14","y":-1.5},
      {"t":"2019-03-01","y":-1.3},{"t":"2019-03-01","y":-0.6},{"t":"2019-03-01","y":0.1},
      {"t":"2019-03-06","y":-1.3},{"t":"2019-03-06","y":-0.6},{"t":"2019-03-06","y":0.1},
      {"t":"2019-03-11","y":-1.2},{"t":"2019-03-11","y":-0.5},{"t":"2019-03-11","y":0.2},
      {"t":"2019-03-16","y":-1.5},{"t":"2019-03-16","y":-0.8},{"t":"2019-03-16","y":-0.1},{"t":"2019-03-16","y":-2.5},
      {"t":"2019-03-21","y":-1.5},{"t":"2019-03-21","y":-0.8},{"t":"2019-03-21","y":-0.1},
      {"t":"2019-03-26","y":-1.6},{"t":"2019-03-26","y":-0.9},{"t":"2019-03-26","y":-0.2},
      {"t":"2019-03-31","y":-1.5},{"t":"2019-03-31","y":-0.8},{"t":"2019-03-31","y":-0.1},
      {"t":"2019-04-05","y":-1.4},{"t":"2019-04-05","y":-0.7},{"t":"2019-04-05","y":0.0},{"t":"2019-04-06","y":1.9},
      {"t":"2019-04-10","y":-1.6},{"t":"2019-04-10","y":-0.9},{"t":"2019-04-10","y":-0.2},{"t":"2019-04-10","y":0.7},
      {"t":"2019-04-15","y":-1.5},{"t":"2019-04-15","y":-0.8},{"t":"2019-04-15","y":-0.1},{"t":"2019-04-16","y":-2.7},
      {"t":"2019-04-20","y":-1.6},{"t":"2019-04-20","y":-0.9},{"t":"2019-04-20","y":-0.2},{"t":"2019-04-22","y":2.6},
      {"t":"2019-04-25","y":-1.5},{"t":"2019-04-25","y":-0.8},{"t":"2019-04-25","y":-0.1},
      {"t":"2019-04-30","y":-1.6},{"t":"2019-04-30","y":-0.9},{"t":"2019-04-30","y":-0.2},{"t":"2019-04-30","y":-2.95},
      {"t":"2019-05-05","y":-1.5},{"t":"2019-05-05","y":-0.8},{"t":"2019-05-05","y":-0.1},{"t":"2019-05-06","y":-2.1},
      {"t":"2019-05-10","y":-1.6},{"t":"2019-05-10","y":-0.9},{"t":"2019-05-10","y":-0.2},
      {"t":"2019-05-15","y":-1.5},{"t":"2019-05-15","y":-0.8},{"t":"2019-05-15","y":-0.1},{"t":"2019-05-14","y":-5.45},{"t":"2019-05-17","y":2.6},
      {"t":"2019-05-20","y":-1.6},{"t":"2019-05-20","y":-0.9},{"t":"2019-05-20","y":-0.2},
      {"t":"2019-05-25","y":-1.5},{"t":"2019-05-25","y":-0.8},{"t":"2019-05-25","y":-0.1},{"t":"2019-05-24","y":-2.3},
      {"t":"2019-05-30","y":-1.6},{"t":"2019-05-30","y":-0.9},{"t":"2019-05-30","y":-0.2},
      {"t":"2019-06-04","y":-1.5},{"t":"2019-06-04","y":-0.8},{"t":"2019-06-04","y":-0.1},{"t":"2019-06-01","y":3.3},{"t":"2019-06-01","y":-3.1},{"t":"2019-06-01","y":-3.85},{"t":"2019-06-05","y":1.0},
      {"t":"2019-06-09","y":-1.6},{"t":"2019-06-09","y":-0.9},{"t":"2019-06-09","y":-0.2},
      {"t":"2019-06-14","y":-1.5},{"t":"2019-06-14","y":-0.8},{"t":"2019-06-14","y":-0.1},
      {"t":"2019-06-24","y":-1.3},{"t":"2019-06-24","y":-0.6},{"t":"2019-06-24","y":0.1},{"t":"2019-06-22","y":1.0},
      {"t":"2019-06-29","y":-1.4},{"t":"2019-06-29","y":-0.7},{"t":"2019-06-29","y":0.0},{"t":"2019-06-27","y":-2.8},
      {"t":"2019-07-04","y":-1.3},{"t":"2019-07-04","y":-0.6},{"t":"2019-07-04","y":0.1},{"t":"2019-07-04","y":-2.6},
      {"t":"2019-07-09","y":-1.4},{"t":"2019-07-09","y":-0.7},{"t":"2019-07-09","y":0.0},{"t":"2019-07-10","y":1.0},
      {"t":"2019-07-14","y":-1.3},{"t":"2019-07-14","y":-0.6},{"t":"2019-07-14","y":0.1},{"t":"2019-07-12","y":-2.9},
      {"t":"2019-07-19","y":-1.4},{"t":"2019-07-19","y":-0.7},{"t":"2019-07-19","y":0.0},
      {"t":"2019-07-24","y":-1.3},{"t":"2019-07-24","y":-0.6},{"t":"2019-07-24","y":0.1},{"t":"2019-07-21","y":-2.75},{"t":"2019-07-22","y":0.9},
      {"t":"2019-07-29","y":-1.2},{"t":"2019-07-29","y":-0.5},{"t":"2019-07-29","y":0.2},{"t":"2019-07-30","y":2.65},
      {"t":"2019-08-08","y":-1.2},{"t":"2019-08-08","y":-0.5},{"t":"2019-08-08","y":0.2},
      {"t":"2019-08-13","y":-1.3},{"t":"2019-08-13","y":-0.6},{"t":"2019-08-13","y":0.1},
      {"t":"2019-08-18","y":-1.2},{"t":"2019-08-18","y":-0.5},{"t":"2019-08-18","y":0.2},
      {"t":"2019-08-23","y":-1.3},{"t":"2019-08-23","y":-0.6},{"t":"2019-08-23","y":0.1},{"t":"2019-08-22","y":1.3},{"t":"2019-08-25","y":-2.2},
      {"t":"2019-08-28","y":-1.2},{"t":"2019-08-28","y":-0.5},{"t":"2019-08-28","y":0.2},
      {"t":"2019-09-02","y":-1.1},{"t":"2019-09-02","y":-0.4},{"t":"2019-09-02","y":0.3},{"t":"2019-09-03","y":0.8},
      {"t":"2019-09-07","y":-1.2},{"t":"2019-09-07","y":-0.5},{"t":"2019-09-07","y":0.2},
      {"t":"2019-09-12","y":-1.1},{"t":"2019-09-12","y":-0.4},{"t":"2019-09-12","y":0.3},
      {"t":"2019-09-17","y":-1.2},{"t":"2019-09-17","y":-0.5},{"t":"2019-09-17","y":0.2},
      {"t":"2019-09-22","y":-1.1},{"t":"2019-09-22","y":-0.4},{"t":"2019-09-22","y":0.3},
      {"t":"2019-10-04","y":-0.8},{"t":"2019-10-04","y":-0.2},{"t":"2019-10-03","y":1.4},
      {"t":"2019-03-03","y":-0.95},{"t":"2019-03-03","y":-0.25},{"t":"2019-03-08","y":-0.9},{"t":"2019-03-08","y":-0.2},
      {"t":"2019-03-18","y":-1.15},{"t":"2019-03-18","y":-0.45},{"t":"2019-03-23","y":-1.2},{"t":"2019-03-23","y":-0.5},
      {"t":"2019-03-28","y":-1.2},{"t":"2019-03-28","y":-0.5},{"t":"2019-04-02","y":-1.1},{"t":"2019-04-02","y":-0.4},
      {"t":"2019-04-07","y":-1.15},{"t":"2019-04-07","y":-0.45},{"t":"2019-04-12","y":-1.2},{"t":"2019-04-12","y":-0.5},
      {"t":"2019-04-17","y":-1.2},{"t":"2019-04-17","y":-0.5},{"t":"2019-04-22","y":-1.2},{"t":"2019-04-22","y":-0.5},
      {"t":"2019-04-27","y":-1.2},{"t":"2019-04-27","y":-0.5},{"t":"2019-05-02","y":-1.2},{"t":"2019-05-02","y":-0.5},
      {"t":"2019-05-07","y":-1.2},{"t":"2019-05-07","y":-0.5},{"t":"2019-05-12","y":-1.2},{"t":"2019-05-12","y":-0.5},
      {"t":"2019-05-17","y":-1.2},{"t":"2019-05-17","y":-0.5},{"t":"2019-05-22","y":-1.2},{"t":"2019-05-22","y":-0.5},
      {"t":"2019-05-27","y":-1.2},{"t":"2019-05-27","y":-0.5},{"t":"2019-06-01","y":-1.2},{"t":"2019-06-01","y":-0.5},
      {"t":"2019-06-06","y":-1.2},{"t":"2019-06-06","y":-0.5},{"t":"2019-06-11","y":-1.2},{"t":"2019-06-11","y":-0.5},
      {"t":"2019-06-26","y":-1.0},{"t":"2019-06-26","y":-0.3},{"t":"2019-07-01","y":-1.0},{"t":"2019-07-01","y":-0.3},
      {"t":"2019-07-06","y":-1.0},{"t":"2019-07-06","y":-0.3},{"t":"2019-07-11","y":-1.0},{"t":"2019-07-11","y":-0.3},
      {"t":"2019-07-16","y":-1.0},{"t":"2019-07-16","y":-0.3},{"t":"2019-07-21","y":-1.0},{"t":"2019-07-21","y":-0.3},
      {"t":"2019-07-26","y":-0.9},{"t":"2019-07-26","y":-0.2},{"t":"2019-08-10","y":-0.9},{"t":"2019-08-10","y":-0.2},
      {"t":"2019-08-15","y":-0.9},{"t":"2019-08-15","y":-0.2},{"t":"2019-08-20","y":-0.9},{"t":"2019-08-20","y":-0.2},
      {"t":"2019-08-25","y":-0.9},{"t":"2019-08-25","y":-0.2},{"t":"2019-08-30","y":-0.8},{"t":"2019-08-30","y":-0.1},
      {"t":"2019-09-04","y":-0.8},{"t":"2019-09-04","y":-0.1},{"t":"2019-09-09","y":-0.8},{"t":"2019-09-09","y":-0.1},
      {"t":"2019-09-14","y":-0.8},{"t":"2019-09-14","y":-0.1},{"t":"2019-09-19","y":-0.8},{"t":"2019-09-19","y":-0.1}
    ]
  },
  "bounds": "flush",
  "spacing": 41,
  "resolve": {
    "scale": {"y": "independent", "color": "independent", "fill": "independent", "stroke": "independent", "shape": "independent"},
    "legend": {"color": "independent", "fill": "independent", "stroke": "independent", "shape": "independent"}
  },
  "vconcat": [
    {
      "width": 1170,
      "height": 177,
      "layer": [
        {
          "data": {"name": "tc"},
          "mark": {"type": "point", "shape": "circle", "filled": true, "size": 40, "opacity": 1, "color": "#ff0000"},
          "encoding": {
            "x": {
              "field": "t", "type": "temporal",
              "scale": {"type": "utc", "domain": [{"year": 2017, "month": 1, "date": 1, "utc": true}, {"year": 2020, "month": 1, "date": 1, "utc": true}]},
              "axis": {
                "title": null, "format": "%Y-%m", "labelAngle": -8, "labelAlign": "center", "labelBaseline": "middle",
                "labelPadding": 12, "labelFlush": false, "labelOverlap": false, "grid": true,
                "values": [
                  {"year": 2017, "month": 1, "date": 1, "utc": true}, {"year": 2017, "month": 5, "date": 1, "utc": true},
                  {"year": 2017, "month": 9, "date": 1, "utc": true}, {"year": 2018, "month": 1, "date": 1, "utc": true},
                  {"year": 2018, "month": 5, "date": 1, "utc": true}, {"year": 2018, "month": 9, "date": 1, "utc": true},
                  {"year": 2019, "month": 1, "date": 1, "utc": true}, {"year": 2019, "month": 5, "date": 1, "utc": true},
                  {"year": 2019, "month": 9, "date": 1, "utc": true}, {"year": 2020, "month": 1, "date": 1, "utc": true}
                ]
              }
            },
            "y": {
              "field": "y", "type": "quantitative",
              "scale": {"domain": [381.2, 421.5], "nice": false, "zero": false},
              "axis": {"title": "XCO2 (ppm)", "values": [385, 390, 395, 400, 405, 410, 415, 420], "tickCount": 8, "labelOverlap": false, "grid": true, "labelPadding": 3, "titlePadding": 4}
            }
          }
        },
        {
          "data": {"name": "vx"},
          "mark": {"type": "point", "shape": "M-1,0H1M0,-1V1", "filled": false, "size": 80, "strokeWidth": 1.3, "opacity": 1, "color": "#008000"},
          "encoding": {
            "x": {"field": "t", "type": "temporal"},
            "y": {
              "field": "y", "type": "quantitative",
              "axis": {"title": "XCO2 (ppm)", "values": [385, 390, 395, 400, 405, 410, 415, 420], "tickCount": 8, "labelOverlap": false, "grid": true, "labelPadding": 3, "titlePadding": 4}
            }
          }
        },
        {
          "data": {"name": "series"},
          "mark": {"type": "point", "filled": true, "opacity": 0},
          "encoding": {
            "shape": {
              "field": "s", "type": "nominal",
              "scale": {
                "range": [
                  "M-4.16,0a0.86,0.86 0 1,0 1.72,0a0.86,0.86 0 1,0 -1.72,0M-1.96,0a0.86,0.86 0 1,0 1.72,0a0.86,0.86 0 1,0 -1.72,0M0.24,0a0.86,0.86 0 1,0 1.72,0a0.86,0.86 0 1,0 -1.72,0M2.44,0a0.86,0.86 0 1,0 1.72,0a0.86,0.86 0 1,0 -1.72,0",
                  "M-4.05,0H-2.55M-3.3,-0.75V0.75M-1.85,0H-0.35M-1.1,-0.75V0.75M0.35,0H1.85M1.1,-0.75V0.75M2.55,0H4.05M3.3,-0.75V0.75"
                ]
              },
              "legend": {
                "title": null, "orient": "top-right", "offset": 6,
                "fillColor": "rgba(255,255,255,0.85)", "strokeColor": "#cccccc", "cornerRadius": 3, "padding": 6,
                "labelFontSize": 12, "symbolSize": 49, "symbolOffset": 11, "labelOffset": 16, "rowPadding": 2,
                "symbolStrokeWidth": 1, "symbolOpacity": 1
              }
            },
            "fill": {
              "field": "s", "type": "nominal",
              "scale": {"range": ["#ff0000", "#008000"]},
              "legend": {
                "title": null, "orient": "top-right", "offset": 6,
                "fillColor": "rgba(255,255,255,0.85)", "strokeColor": "#cccccc", "cornerRadius": 3, "padding": 6,
                "labelFontSize": 12, "symbolSize": 49, "symbolOffset": 11, "labelOffset": 16, "rowPadding": 2,
                "symbolStrokeWidth": 1, "symbolOpacity": 1
              }
            },
            "stroke": {
              "field": "s", "type": "nominal",
              "scale": {"range": ["#ff0000", "#008000"]},
              "legend": {
                "title": null, "orient": "top-right", "offset": 6,
                "fillColor": "rgba(255,255,255,0.85)", "strokeColor": "#cccccc", "cornerRadius": 3, "padding": 6,
                "labelFontSize": 12, "symbolSize": 49, "symbolOffset": 11, "labelOffset": 16, "rowPadding": 2,
                "symbolStrokeWidth": 1, "symbolOpacity": 1
              }
            }
          }
        },
        {
          "data": {"name": "spans"},
          "mark": {
            "type": "rect", "opacity": 0.65,
            "color": {"gradient": "linear", "x1": 0, "y1": 0, "x2": 0, "y2": 1,
              "stops": [{"offset": 0, "color": "#afd4e9"}, {"offset": 0.85, "color": "#76aada"}, {"offset": 1, "color": "#8cb9e0"}]}
          },
          "encoding": {
            "x": {"field": "a", "type": "temporal"},
            "x2": {"field": "b"}
          }
        },
        {
          "data": {"name": "edge"},
          "mark": {"type": "rule", "color": "#4f6f80", "strokeWidth": 1.2},
          "encoding": {"x": {"field": "t", "type": "temporal"}}
        },
        {
          "data": {"name": "lines"},
          "mark": {"type": "rule", "color": "#1c8c3c", "strokeWidth": 1.8},
          "encoding": {"x": {"field": "t", "type": "temporal"}}
        },
        {
          "data": {"values": [{"t": "2017-11-17", "y": 412.3, "s": "(a)"}]},
          "mark": {"type": "text", "fontSize": 17, "font": "DejaVu Sans", "color": "#262626"},
          "encoding": {
            "x": {"field": "t", "type": "temporal"},
            "y": {
              "field": "y", "type": "quantitative",
              "axis": {"title": "XCO2 (ppm)", "values": [385, 390, 395, 400, 405, 410, 415, 420], "tickCount": 8, "labelOverlap": false, "grid": true, "labelPadding": 3, "titlePadding": 4}
            },
            "text": {"field": "s"}
          }
        }
      ]
    },
    {
      "width": 1170,
      "height": 177,
      "layer": [
        {
          "data": {"name": "dv"},
          "mark": {"type": "point", "shape": "M-1,0H1M0,-1V1", "filled": false, "size": 80, "strokeWidth": 1.3, "opacity": 1},
          "encoding": {
            "x": {
              "field": "t", "type": "temporal",
              "scale": {"type": "utc", "domain": [{"year": 2017, "month": 1, "date": 1, "utc": true}, {"year": 2020, "month": 1, "date": 1, "utc": true}]},
              "axis": {
                "title": "Date", "titlePadding": 6, "format": "%Y-%m", "labelAngle": -8, "labelAlign": "center", "labelBaseline": "middle",
                "labelPadding": 9, "labelFlush": false, "labelOverlap": false, "grid": true,
                "values": [
                  {"year": 2017, "month": 1, "date": 1, "utc": true}, {"year": 2017, "month": 5, "date": 1, "utc": true},
                  {"year": 2017, "month": 9, "date": 1, "utc": true}, {"year": 2018, "month": 1, "date": 1, "utc": true},
                  {"year": 2018, "month": 5, "date": 1, "utc": true}, {"year": 2018, "month": 9, "date": 1, "utc": true},
                  {"year": 2019, "month": 1, "date": 1, "utc": true}, {"year": 2019, "month": 5, "date": 1, "utc": true},
                  {"year": 2019, "month": 9, "date": 1, "utc": true}, {"year": 2020, "month": 1, "date": 1, "utc": true}
                ]
              }
            },
            "y": {
              "field": "y", "type": "quantitative",
              "scale": {"domain": [-6.18, 7.41], "nice": false, "zero": false},
              "axis": {"title": "ΔXCO2 (ppm)", "values": [-6, -4, -2, 0, 2, 4, 6], "tickCount": 7, "labelOverlap": false, "grid": true, "labelPadding": 3, "titlePadding": 4}
            },
            "color": {
              "datum": "Vertex70 - TCCONmod", "type": "nominal",
              "scale": {"domain": ["Vertex70 - TCCONmod"], "range": ["#008000"]},
              "legend": {
                "title": null, "orient": "top-right", "offset": 6,
                "fillColor": "rgba(255,255,255,0.85)", "strokeColor": "#cccccc", "cornerRadius": 3, "padding": 5,
                "labelFontSize": 12, "symbolSize": 49, "symbolOffset": 11, "labelOffset": 16, "symbolStrokeWidth": 1,
                "symbolType": "M-4.05,0H-2.55M-3.3,-0.75V0.75M-1.85,0H-0.35M-1.1,-0.75V0.75M0.35,0H1.85M1.1,-0.75V0.75M2.55,0H4.05M3.3,-0.75V0.75"
              }
            }
          }
        },
        {
          "data": {"name": "spans"},
          "mark": {
            "type": "rect", "opacity": 0.65,
            "color": {"gradient": "linear", "x1": 0, "y1": 0, "x2": 0, "y2": 1,
              "stops": [{"offset": 0, "color": "#afd4e9"}, {"offset": 0.85, "color": "#76aada"}, {"offset": 1, "color": "#8cb9e0"}]}
          },
          "encoding": {
            "x": {"field": "a", "type": "temporal"},
            "x2": {"field": "b"}
          }
        },
        {
          "data": {"name": "edge"},
          "mark": {"type": "rule", "color": "#4f6f80", "strokeWidth": 1.2},
          "encoding": {"x": {"field": "t", "type": "temporal"}}
        },
        {
          "data": {"name": "lines"},
          "mark": {"type": "rule", "color": "#1c8c3c", "strokeWidth": 1.8},
          "encoding": {"x": {"field": "t", "type": "temporal"}}
        },
        {
          "data": {"values": [{"t": "2017-11-18", "y": 5.0, "s": "(b)"}]},
          "mark": {"type": "text", "fontSize": 17, "font": "DejaVu Sans", "color": "#262626"},
          "encoding": {
            "x": {"field": "t", "type": "temporal"},
            "y": {
              "field": "y", "type": "quantitative",
              "axis": {"title": "ΔXCO2 (ppm)", "values": [-6, -4, -2, 0, 2, 4, 6], "tickCount": 7, "labelOverlap": false, "grid": true, "labelPadding": 3, "titlePadding": 4}
            },
            "text": {"field": "s"}
          }
        }
      ]
    }
  ]
}
